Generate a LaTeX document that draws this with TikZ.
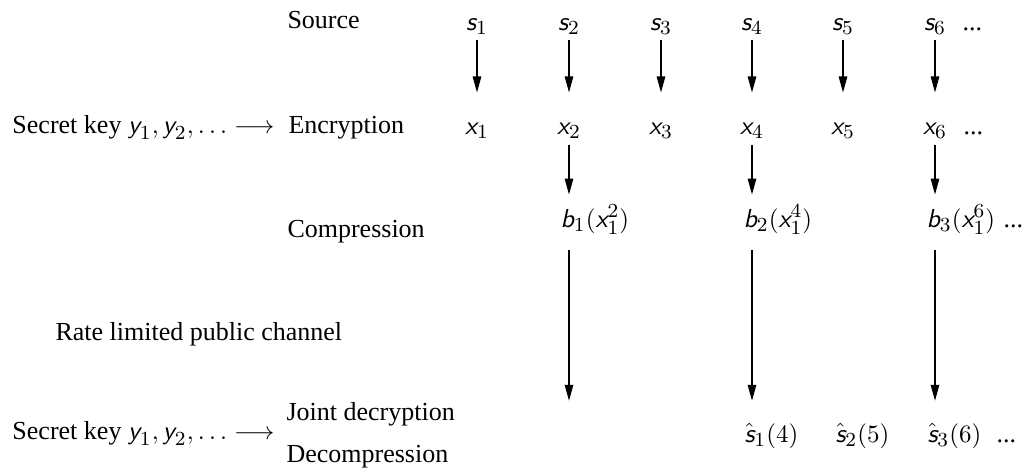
\documentclass[tikz,border=0pt]{standalone}
\usepackage{fontspec}
\setmainfont{Liberation Serif}
\usetikzlibrary{arrows.meta}
\DeclareMathSizes{10.4}{10.4}{8.3}{6.5}
\newcommand{\mv}[1]{\textsf{\slshape #1}}
\begin{document}
\begin{tikzpicture}[x=0.4pt,y=-0.4pt, font=\fontsize{10.4}{12.5}\selectfont,
  lbl/.style={anchor=base west, inner sep=0pt},
  sym/.style={anchor=base, inner sep=0pt},
  syml/.style={anchor=base west, inner sep=0pt},
  arr/.style={-{Triangle[length=6.4pt,width=3.4pt]}, line width=0.5pt},
  sx/.style={arr, shorten <=2pt, shorten >=11.8pt},
  xb/.style={arr, shorten <=2.4pt, shorten >=4pt},
  bs/.style={arr, shorten <=5.8pt, shorten >=8.8pt}]
\useasboundingbox (0,0) rectangle (1034,468);
% row labels
\node[lbl] (src) at (287,28) {Source};
\node[lbl] (key1) at (12,133) {Secret key $\mv{y}_1, \mv{y}_2, \ldots \longrightarrow$};
\node[lbl] (enc) at (288,133) {Encryption};
\node[lbl] (cmp) at (287,237) {Compression};
\node[lbl] (chan) at (55,340) {Rate limited public channel};
\node[lbl] (key2) at (12,439) {Secret key $\mv{y}_1, \mv{y}_2, \ldots \longrightarrow$};
\node[lbl] (jd) at (286,420) {Joint decryption};
\node[lbl] (dec) at (286,462) {Decompression};
% source row
\node[sym] (s1) at (477,30) {$\mv{s}_1$};
\node[sym] (s2) at (569,30) {$\mv{s}_2$};
\node[sym] (s3) at (661,30) {$\mv{s}_3$};
\node[sym] (s4) at (752,30) {$\mv{s}_4$};
\node[sym] (s5) at (843,30) {$\mv{s}_5$};
\node[sym] (s6) at (935,30) {$\mv{s}_6$};
\node[syml] (sd) at (962,30) {...};
% encryption row
\node[sym] (x1) at (477,134) {$\mv{x}_1$};
\node[sym] (x2) at (569,134) {$\mv{x}_2$};
\node[sym] (x3) at (661,134) {$\mv{x}_3$};
\node[sym] (x4) at (752,134) {$\mv{x}_4$};
\node[sym] (x5) at (843,134) {$\mv{x}_5$};
\node[sym] (x6) at (935,134) {$\mv{x}_6$};
\node[syml] (xd) at (963,134) {...};
% compression row
\node[syml] (b1) at (560,227) {$\mv{b}_1(\mv{x}_1^2)$};
\node[syml] (b2) at (743,227) {$\mv{b}_2(\mv{x}_1^4)$};
\node[syml] (b3) at (926,227) {$\mv{b}_3(\mv{x}_1^6)$};
\node[syml] (bd) at (1003,227) {...};
% decoded row
\node[syml] (sh1) at (744,442) {$\hat{\mv{s}}_1(4)$};
\node[syml] (sh2) at (835,442) {$\hat{\mv{s}}_2(5)$};
\node[syml] (sh3) at (927,442) {$\hat{\mv{s}}_3(6)$};
\node[syml] (shd) at (996,442) {...};
% arrows
\foreach \i in {1,...,6} {
  \draw[sx] (s\i.south) -- (s\i.south |- x\i.north);
}
\draw[xb] (x2.south) -- (x2.south |- b1.north);
\draw[xb] (x4.south) -- (x4.south |- b2.north);
\draw[xb] (x6.south) -- (x6.south |- b3.north);
\draw[bs] (b1.south -| x2) -- (x2 |- sh1.north);
\draw[bs] (b2.south -| x4) -- (x4 |- sh1.north);
\draw[bs] (b3.south -| x6) -- (x6 |- sh3.north);
\end{tikzpicture}
\end{document}
